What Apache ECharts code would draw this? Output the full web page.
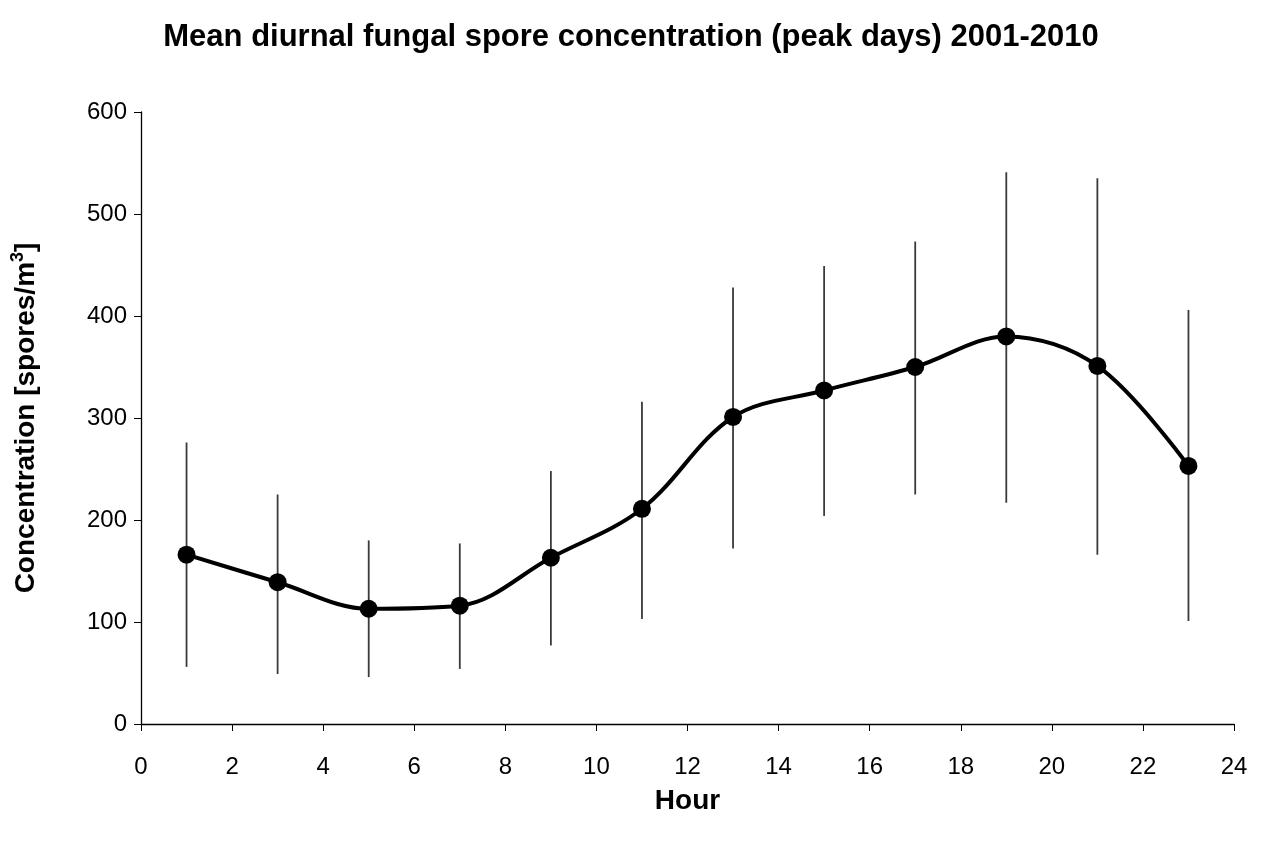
<!DOCTYPE html>
<html>
<head>
<meta charset="utf-8">
<script src="https://cdn.jsdelivr.net/npm/echarts@6/dist/echarts.min.js"></script>
<style>
  html, body { margin: 0; padding: 0; background: #ffffff; }
  #chart { width: 1262px; height: 841px; }
</style>
</head>
<body>
<div id="chart"></div>
<script>
let hours = [1, 3, 5, 7, 9, 11, 13, 15, 17, 19, 21, 23];
let meanConc = [166, 139, 113, 116, 163, 211, 301, 327, 350, 380, 351, 253];
let upperConc = [276, 225, 180, 177, 248, 316, 428, 449, 473, 541, 535, 406];
let lowerConc = [56, 49, 46, 54, 77, 103, 172, 204, 225, 217, 166, 101];

let fontName = "Liberation Sans, Arial, sans-serif";

/* build data pairs */
let lineData = hours.map(function (h, i) { return [h, meanConc[i]]; });
let errData = hours.map(function (h, i) { return [h, lowerConc[i], upperConc[i]]; });

let myChart = echarts.init(document.getElementById("chart"));
let option = {
  backgroundColor: "#ffffff",
  animation: false,
  title: {
    text: "Mean diurnal fungal spore concentration (peak days) 2001-2010",
    left: "center",
    top: 17,
    textStyle: {
      fontFamily: fontName,
      fontSize: 31,
      fontWeight: "bold",
      color: "#000000",
    },
  },
  grid: {
    left: 141,
    right: 28,
    top: 112,
    bottom: 117,
  },
  xAxis: {
    type: "value",
    min: 0,
    max: 24,
    interval: 2,
    name: "Hour",
    nameLocation: "middle",
    nameGap: 63,
    nameTextStyle: {
      fontFamily: fontName,
      fontSize: 28,
      fontWeight: "bold",
      color: "#000000",
    },
    axisLine: { lineStyle: { color: "#000000", width: 1.3 } },
    axisTick: { show: true, inside: false, length: 7, lineStyle: { color: "#000000" } },
    axisLabel: {
      margin: 31,
      fontFamily: fontName,
      fontSize: 24,
      color: "#000000",
    },
    splitLine: { show: false },
  },
  yAxis: {
    type: "value",
    min: 0,
    max: 600,
    interval: 100,
    name: "Concentration [spores/m{sup|3}]",
    nameLocation: "middle",
    nameGap: 98,
    nameTextStyle: {
      fontFamily: fontName,
      fontSize: 28,
      fontWeight: "bold",
      color: "#000000",
      rich: {
        sup: {
          fontFamily: fontName,
          fontSize: 18,
          fontWeight: "bold",
          verticalAlign: "top",
          padding: [0, 0, 16, 0],
        },
      },
    },
    axisLine: { show: true, lineStyle: { color: "#000000", width: 1.3 } },
    axisTick: { show: true, inside: false, length: 7, lineStyle: { color: "#000000" } },
    axisLabel: {
      margin: 14,
      fontFamily: fontName,
      fontSize: 24,
      color: "#000000",
    },
    splitLine: { show: false },
  },
  series: [
    {
      // error bars, no caps
      type: "custom",
      data: errData,
      z: 1,
      renderItem: function (params, api) {
        let x = api.value(0);
        let top = api.coord([x, api.value(2)]);
        let bot = api.coord([x, api.value(1)]);
        return {
          type: "line",
          shape: { x1: top[0], y1: top[1], x2: bot[0], y2: bot[1] },
          style: { stroke: "#3a3a3a", lineWidth: 1.8 },
        };
      },
    },
    {
      type: "line",
      data: lineData,
      z: 2,
      smooth: 0.35,
      symbol: "circle",
      symbolSize: 18,
      itemStyle: { color: "#000000" },
      lineStyle: { color: "#000000", width: 4 },
    },
  ],
};
myChart.setOption(option);
</script>
</body>
</html>
